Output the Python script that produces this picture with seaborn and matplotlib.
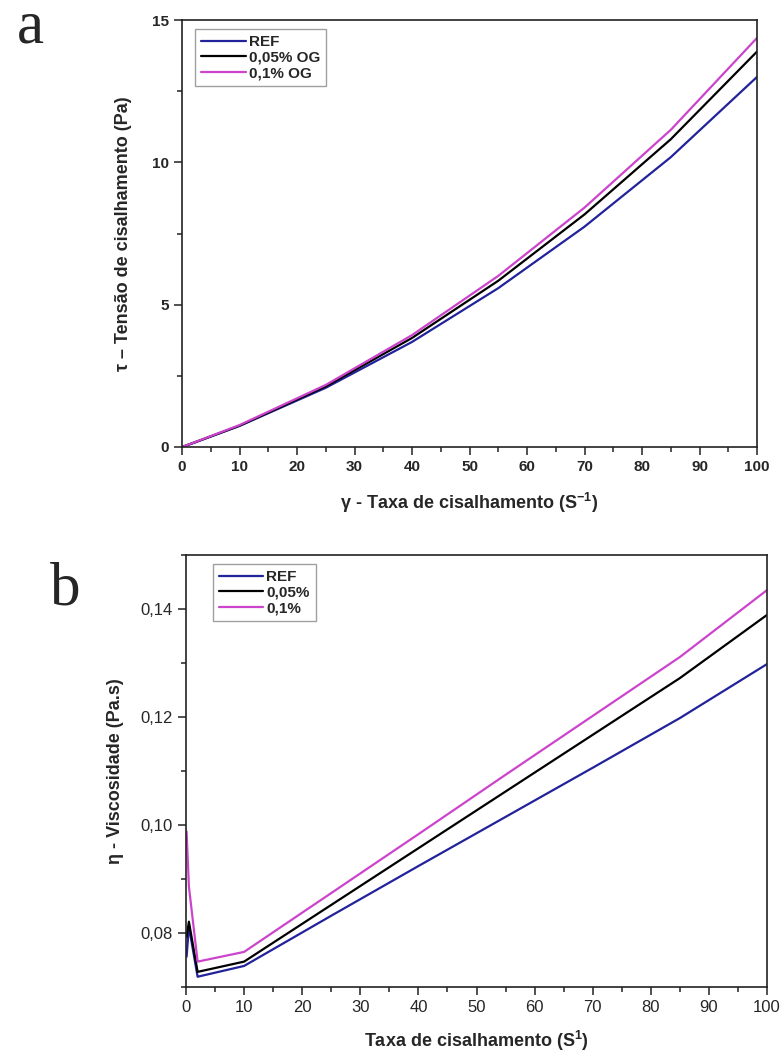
import matplotlib
matplotlib.use("Agg")
import matplotlib.pyplot as plt
import seaborn as sns
import pandas as pd
import numpy as np
from matplotlib.ticker import MultipleLocator

sns.set_theme(style="white")
plt.rcParams['font.family'] = ['Liberation Sans', 'DejaVu Sans']
plt.rcParams['mathtext.fontset'] = 'custom'
plt.rcParams['mathtext.rm'] = 'Liberation Sans'
plt.rcParams['mathtext.bf'] = 'Liberation Sans:bold'

# ---- Panel a data: shear stress vs shear rate ----
rate_a = [0, 2, 10, 25, 40, 55, 70, 85, 100]
stress_ref = [0, 0.14, 0.74, 2.08, 3.69, 5.58, 7.74, 10.18, 13.00]
stress_005 = [0, 0.15, 0.75, 2.13, 3.83, 5.84, 8.17, 10.81, 13.89]
stress_01 = [0, 0.15, 0.77, 2.18, 3.93, 6.01, 8.41, 11.14, 14.37]
labels_a = ["REF", "0,05% OG", "0,1% OG"]

# ---- Panel b data: viscosity vs shear rate ----
rate_b = [0.1, 0.5, 2, 10, 25, 40, 55, 70, 85, 100]
visc_ref = [0.0756, 0.0812, 0.0719, 0.0739, 0.0832, 0.0924, 0.1015, 0.1106, 0.1198, 0.1298]
visc_005 = [0.0793, 0.0821, 0.0728, 0.0747, 0.0852, 0.0957, 0.1062, 0.1167, 0.1272, 0.1389]
visc_01 = [0.0988, 0.0886, 0.0747, 0.0765, 0.0874, 0.0983, 0.1093, 0.1202, 0.1311, 0.1435]
labels_b = ["REF", "0,05%", "0,1%"]

colors = ["#22229a", "#000000", "#cc44cc"]

x_ticks = [0, 10, 20, 30, 40, 50, 60, 70, 80, 90, 100]
ya_ticks = [0, 5, 10, 15]
yb_ticks = [0.08, 0.10, 0.12, 0.14]
yb_labels = ["0,08", "0,10", "0,12", "0,14"]

df_a = pd.DataFrame({
    "rate": rate_a * 3,
    "value": stress_ref + stress_005 + stress_01,
    "series": [labels_a[0]] * len(rate_a) + [labels_a[1]] * len(rate_a) + [labels_a[2]] * len(rate_a),
})
df_b = pd.DataFrame({
    "rate": rate_b * 3,
    "value": visc_ref + visc_005 + visc_01,
    "series": [labels_b[0]] * len(rate_b) + [labels_b[1]] * len(rate_b) + [labels_b[2]] * len(rate_b),
})

W, H = 781, 1057
fig = plt.figure(figsize=(W / 100, H / 100), dpi=100)
ax_a = fig.add_axes([182 / W, 1 - 447 / H, (757 - 182) / W, (447 - 20) / H])
ax_b = fig.add_axes([186 / W, 1 - 987 / H, (767 - 186) / W, (987 - 555) / H])

for ax, df, labels, anchor in [(ax_a, df_a, labels_a, (0.023, 0.979)),
                               (ax_b, df_b, labels_b, (0.046, 0.979))]:
    sns.lineplot(data=df, x="rate", y="value", hue="series", hue_order=labels,
                 palette=colors, linewidth=1.6, ax=ax, sort=False, legend=True)
    for s in ax.spines.values():
        s.set_color("#222222")
        s.set_linewidth(1.2)
    ax.tick_params(axis="both", which="both", direction="out", left=True, bottom=True,
                   top=False, right=False, color="#222222")
    ax.tick_params(which="major", length=6, width=1.1)
    ax.tick_params(which="minor", length=3.5, width=1.1)
    ax.set_xlim(0, 100)
    ax.set_xticks(x_ticks)
    ax.xaxis.set_minor_locator(MultipleLocator(5))
    leg = ax.legend(loc="upper left", frameon=True, fancybox=False, handlelength=2.9,
                    handletextpad=0.2, borderpad=0.4, labelspacing=0.1, borderaxespad=0,
                    prop={"weight": "bold", "size": 11}, bbox_to_anchor=anchor)
    leg.get_frame().set_edgecolor("#888888")
    leg.get_frame().set_linewidth(1.0)
    for line in leg.get_lines():
        line.set_linewidth(1.6)

# panel a
ax_a.set_ylim(0, 15)
ax_a.set_yticks(ya_ticks)
ax_a.yaxis.set_minor_locator(MultipleLocator(2.5))
ax_a.set_xticklabels([str(t) for t in x_ticks], fontweight="bold", fontsize=11)
ax_a.set_yticklabels([str(t) for t in ya_ticks], fontweight="bold", fontsize=11)
ax_a.set_xlabel(r"γ - Taxa de cisalhamento (S$^{\mathbf{-1}}$)", fontweight="bold", fontsize=13, labelpad=12)
ax_a.set_ylabel("τ – Tensão de cisalhamento (Pa)", fontweight="bold", fontsize=13, labelpad=14)

# panel b
ax_b.set_ylim(0.07, 0.15)
ax_b.set_yticks(yb_ticks)
ax_b.yaxis.set_minor_locator(MultipleLocator(0.01))
ax_b.set_xticklabels([str(t) for t in x_ticks], fontsize=12)
ax_b.set_yticklabels(yb_labels, fontsize=12)
ax_b.set_xlabel(r"Taxa de cisalhamento (S$^{\mathbf{1}}$)", fontweight="bold", fontsize=13, labelpad=10)
ax_b.set_ylabel("η - Viscosidade (Pa.s)", fontweight="bold", fontsize=13, labelpad=12)

fig.text(30 / W, 1 - 28 / H, "a", family="Liberation Serif", fontsize=44, ha="center", va="center")
fig.text(65 / W, 1 - 590 / H, "b", family="Liberation Serif", fontsize=44, ha="center", va="center")

fig.savefig("out.png", dpi=100, facecolor="white")
